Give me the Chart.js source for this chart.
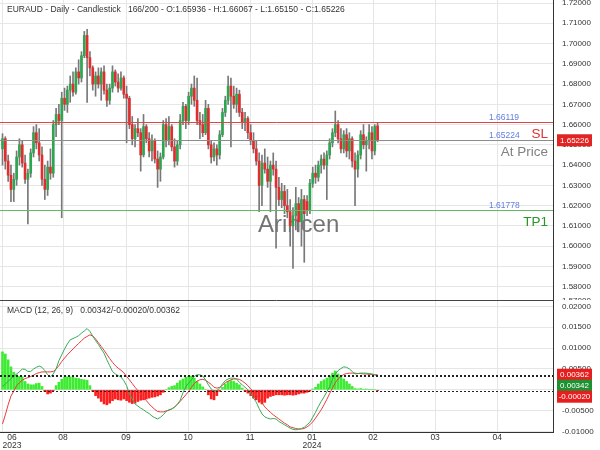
<!DOCTYPE html>
<html>
<head>
<meta charset="utf-8">
<script src="https://cdn.jsdelivr.net/npm/chart.js@4.4.1/dist/chart.umd.min.js"></script>
<style>
html, body { margin: 0; padding: 0; background: #fff; }
</style>
</head>
<body>
<canvas id="chart" width="600" height="450"></canvas>
<script>
// daily candles, EURAUD
const opens = [
  1.6480,1.6530,1.6420,1.6350,1.6280,1.6330,1.6440,1.6500,1.6410,1.6330,
  1.6360,1.6460,1.6560,1.6510,1.6450,1.6330,1.6280,1.6390,1.6360,1.6600,
  1.6650,1.6620,1.6730,1.6700,1.6770,1.6800,1.6760,1.6860,1.6830,1.6940,
  1.7040,1.6930,1.6880,1.6800,1.6840,1.6800,1.6860,1.6770,1.6720,1.6780,
  1.6860,1.6810,1.6780,1.6830,1.6750,1.6730,1.6600,1.6530,1.6580,1.6560,
  1.6450,1.6590,1.6530,1.6470,1.6520,1.6430,1.6380,1.6440,1.6600,1.6520,
  1.6590,1.6490,1.6420,1.6500,1.6620,1.6690,1.6620,1.6740,1.6780,1.6720,
  1.6620,1.6600,1.6560,1.6680,1.6500,1.6440,1.6480,1.6450,1.6550,1.6660,
  1.6720,1.6790,1.6740,1.6700,1.6750,1.6660,1.6610,1.6630,1.6560,1.6520,
  1.6480,1.6420,1.6300,1.6410,1.6380,1.6320,1.6400,1.6380,1.6290,1.6230,
  1.6270,1.6200,1.6170,1.6100,1.6150,1.6210,1.6120,1.6230,1.6220,1.6180,
  1.6310,1.6360,1.6340,1.6400,1.6430,1.6400,1.6450,1.6510,1.6560,1.6600,
  1.6530,1.6480,1.6550,1.6470,1.6530,1.6420,1.6380,1.6450,1.6550,1.6500,
  1.6520,1.6560,1.6470,1.65936
];
const highs = [
  1.6555,1.6540,1.6450,1.6400,1.6360,1.6470,1.6530,1.6520,1.6450,1.6380,
  1.6480,1.6590,1.6600,1.6580,1.6490,1.6400,1.6420,1.6480,1.6620,1.6680,
  1.6700,1.6760,1.6780,1.6790,1.6840,1.6860,1.6880,1.6920,1.6960,1.7060,
  1.7070,1.6960,1.6890,1.6860,1.6880,1.6880,1.6890,1.6800,1.6800,1.6890,
  1.6870,1.6850,1.6860,1.6840,1.6790,1.6740,1.6640,1.6600,1.6630,1.6580,
  1.6650,1.6600,1.6560,1.6550,1.6530,1.6470,1.6460,1.6620,1.6630,1.6640,
  1.6600,1.6530,1.6520,1.6650,1.6710,1.6700,1.6760,1.6800,1.6840,1.6830,
  1.6660,1.6650,1.6720,1.6700,1.6520,1.6510,1.6500,1.6570,1.6680,1.6740,
  1.6840,1.6830,1.6790,1.6780,1.6770,1.6680,1.6660,1.6640,1.6600,1.6560,
  1.6520,1.6460,1.6450,1.6480,1.6440,1.6420,1.6460,1.6420,1.6340,1.6310,
  1.6300,1.6280,1.6230,1.6190,1.6290,1.6240,1.6280,1.6250,1.6250,1.6330,
  1.6390,1.6400,1.6420,1.6450,1.6460,1.6470,1.6530,1.6580,1.6667,1.6620,
  1.6580,1.6570,1.6580,1.6560,1.6540,1.6460,1.6470,1.6570,1.6600,1.6540,
  1.6600,1.6590,1.6600,1.66067
];
const lows = [
  1.6400,1.6380,1.6320,1.6220,1.6220,1.6300,1.6400,1.6390,1.6310,1.6110,
  1.6340,1.6440,1.6480,1.6420,1.6300,1.6230,1.6250,1.6330,1.6340,1.6540,
  1.6600,1.6140,1.6670,1.6660,1.6710,1.6740,1.6750,1.6800,1.6810,1.6930,
  1.6710,1.6840,1.6770,1.6740,1.6780,1.6720,1.6750,1.6690,1.6700,1.6760,
  1.6790,1.6760,1.6770,1.6730,1.6510,1.6580,1.6500,1.6490,1.6540,1.6370,
  1.6440,1.6510,1.6440,1.6420,1.6410,1.6290,1.6320,1.6430,1.6490,1.6500,
  1.6470,1.6390,1.6400,1.6480,1.6600,1.6580,1.6600,1.6700,1.6690,1.6600,
  1.6530,1.6540,1.6550,1.6480,1.6410,1.6420,1.6400,1.6430,1.6540,1.6640,
  1.6700,1.6490,1.6680,1.6660,1.6640,1.6580,1.6570,1.6530,1.6500,1.6460,
  1.6400,1.6170,1.6200,1.6360,1.6290,1.6170,1.6350,1.5990,1.6200,1.6190,
  1.6160,1.6140,1.6000,1.5890,1.6080,1.6070,1.6000,1.5920,1.6150,1.6160,
  1.6290,1.6310,1.6320,1.6360,1.6380,1.6230,1.6430,1.6490,1.6540,1.6510,
  1.6460,1.6460,1.6440,1.6430,1.6390,1.6200,1.6340,1.6430,1.6480,1.6370,
  1.6480,1.6430,1.6450,1.65150
];
const closes = [
  1.6530,1.6420,1.6350,1.6280,1.6330,1.6440,1.6500,1.6410,1.6330,1.6360,
  1.6460,1.6560,1.6510,1.6450,1.6330,1.6280,1.6390,1.6360,1.6600,1.6650,
  1.6620,1.6730,1.6700,1.6770,1.6800,1.6760,1.6860,1.6830,1.6940,1.7040,
  1.6930,1.6880,1.6800,1.6840,1.6800,1.6860,1.6770,1.6720,1.6780,1.6860,
  1.6810,1.6780,1.6830,1.6750,1.6730,1.6600,1.6530,1.6580,1.6560,1.6450,
  1.6590,1.6530,1.6470,1.6520,1.6430,1.6380,1.6440,1.6600,1.6520,1.6590,
  1.6490,1.6420,1.6500,1.6620,1.6690,1.6620,1.6740,1.6780,1.6720,1.6620,
  1.6600,1.6560,1.6680,1.6500,1.6440,1.6480,1.6450,1.6550,1.6660,1.6720,
  1.6790,1.6740,1.6700,1.6750,1.6660,1.6610,1.6630,1.6560,1.6520,1.6480,
  1.6420,1.6300,1.6410,1.6380,1.6320,1.6400,1.6380,1.6290,1.6230,1.6270,
  1.6200,1.6170,1.6100,1.6150,1.6210,1.6120,1.6230,1.6160,1.6180,1.6310,
  1.6360,1.6340,1.6400,1.6430,1.6400,1.6450,1.6510,1.6560,1.6600,1.6530,
  1.6480,1.6550,1.6470,1.6530,1.6420,1.6380,1.6450,1.6550,1.6500,1.6520,
  1.6560,1.6470,1.6590,1.65226
];

// MACD (12, 26, 9)
const macd = [
  0.0008,0.0014,0.0020,0.0027,0.0032,0.0038,0.0043,0.0050,0.0049,0.0044,
  0.0044,0.0050,0.0054,0.0057,0.0054,0.0046,0.0036,0.0031,0.0038,0.0050,
  0.0070,0.0084,0.0098,0.0110,0.0120,0.0123,0.0126,0.0130,0.0136,0.0141,
  0.0147,0.0140,0.0129,0.0118,0.0109,0.0098,0.0088,0.0072,0.0058,0.0044,
  0.0038,0.0034,0.0031,0.0022,0.0010,-0.0010,-0.0022,-0.0034,-0.0039,-0.0044,
  -0.0048,-0.0053,-0.0057,-0.0063,-0.0067,-0.0070,-0.0066,-0.0060,-0.0052,-0.0048,
  -0.0046,-0.0042,-0.0035,-0.0025,-0.0007,0.0008,0.0016,0.0024,0.0032,0.0036,
  0.0036,0.0033,0.0024,0.0012,0.0002,-0.0004,-0.0002,0.0004,0.0014,0.0022,
  0.0026,0.0028,0.0028,0.0026,0.0018,0.0012,0.0006,0.0000,-0.0008,-0.0020,
  -0.0030,-0.0045,-0.0058,-0.0065,-0.0068,-0.0070,-0.0069,-0.0070,-0.0076,-0.0080,
  -0.0084,-0.0088,-0.0092,-0.0095,-0.0096,-0.0095,-0.0093,-0.0090,-0.0084,-0.0078,
  -0.0066,-0.0054,-0.0040,-0.0028,-0.0017,-0.0005,0.0008,0.0025,0.0038,0.0046,
  0.0051,0.0055,0.0054,0.0050,0.0044,0.0038,0.0039,0.0040,0.0040,0.0040,
  0.0039,0.0038,0.0036,0.00342
];
const signal = [
  -0.0082,-0.0060,-0.0036,-0.0015,-0.0003,0.0010,0.0017,0.0023,0.0027,0.0029,
  0.0032,0.0035,0.0039,0.0041,0.0043,0.0043,0.0043,0.0043,0.0044,0.0050,
  0.0058,0.0068,0.0076,0.0084,0.0091,0.0098,0.0105,0.0111,0.0118,0.0124,
  0.0128,0.0132,0.0129,0.0122,0.0113,0.0104,0.0095,0.0085,0.0075,0.0066,
  0.0058,0.0052,0.0047,0.0041,0.0032,0.0024,0.0015,0.0006,-0.0002,-0.0010,
  -0.0017,-0.0026,-0.0034,-0.0041,-0.0047,-0.0052,-0.0053,-0.0053,-0.0051,-0.0049,
  -0.0046,-0.0041,-0.0035,-0.0028,-0.0020,-0.0012,-0.0004,0.0006,0.0015,0.0021,
  0.0024,0.0025,0.0023,0.0018,0.0013,0.0006,0.0004,0.0006,0.0011,0.0017,
  0.0021,0.0024,0.0026,0.0026,0.0025,0.0021,0.0016,0.0010,0.0002,-0.0004,
  -0.0012,-0.0020,-0.0031,-0.0041,-0.0048,-0.0054,-0.0060,-0.0065,-0.0070,-0.0075,
  -0.0080,-0.0084,-0.0089,-0.0091,-0.0093,-0.0094,-0.0094,-0.0093,-0.0089,-0.0084,
  -0.0077,-0.0068,-0.0058,-0.0048,-0.0036,-0.0023,-0.0009,0.0004,0.0017,0.0026,
  0.0032,0.0037,0.0039,0.0040,0.0040,0.0040,0.0039,0.0039,0.0038,0.0038,
  0.0037,0.0037,0.0036,0.00362
];
const hist = [
  0.0091,0.0086,0.0072,0.0055,0.0042,0.0036,0.0032,0.0031,0.0020,0.0014,
  0.0012,0.0012,0.0015,0.0016,0.0008,-0.0004,-0.0010,-0.0008,-0.0002,0.0010,
  0.0018,0.0025,0.0030,0.0031,0.0031,0.0030,0.0028,0.0027,0.0025,0.0024,
  0.0023,0.0010,-0.0004,-0.0014,-0.0020,-0.0028,-0.0034,-0.0036,-0.0032,-0.0026,
  -0.0022,-0.0024,-0.0025,-0.0022,-0.0026,-0.0030,-0.0033,-0.0032,-0.0028,-0.0025,
  -0.0024,-0.0022,-0.0020,-0.0018,-0.0017,-0.0015,-0.0012,-0.0006,0.0000,0.0005,
  0.0008,0.0010,0.0016,0.0022,0.0026,0.0030,0.0032,0.0033,0.0028,0.0020,
  0.0014,0.0007,0.0000,-0.0012,-0.0022,-0.0024,-0.0014,-0.0004,0.0006,0.0014,
  0.0020,0.0022,0.0020,0.0016,0.0012,0.0004,-0.0003,-0.0008,-0.0014,-0.0020,
  -0.0024,-0.0030,-0.0034,-0.0030,-0.0020,-0.0016,-0.0014,-0.0012,-0.0012,-0.0012,
  -0.0013,-0.0012,-0.0012,-0.0013,-0.0012,-0.0010,-0.0008,-0.0008,-0.0006,-0.0003,
  0.0002,0.0006,0.0014,0.0020,0.0024,0.0028,0.0033,0.0040,0.0045,0.0038,
  0.0032,0.0026,0.0020,0.0014,0.0008,0.0003,0.0002,0.0003,0.0001,0.0002,
  0.0000,0.0001,0.0000,-0.00020
];

// month grid (bar index where each month starts) and its labels
const monthIdx = [0.07, 21.45, 43.8, 65.8, 87.8, 109.75, 131.4, 153.4, 175.4];
const monthLabels = ['06', '08', '09', '10', '11', '01', '02', '03', '04'];
const yearLabels = ['2023', '', '', '', '', '2024', '', '', ''];

// trade levels
const levelValues = [1.66119, 1.65224, 1.61778];
const levelNames = ['SL', 'At Price', 'TP1'];
const levelColors = ['rgb(222,50,50)', 'rgb(130,130,130)', 'rgb(40,150,40)'];
const levelLineColors = ['rgb(222,70,70)', 'rgb(140,140,140)', 'rgb(100,185,100)'];

const FONT = 'Liberation Sans, Arial, sans-serif';
const upColor = 'rgb(46,165,80)';
const downColor = 'rgb(225,45,45)';
const n = closes.length;
const idx = closes.map((c, i) => i);
const last = n - 1;
const priceTop = 1.72;
const priceBottom = 1.57;

const overlay = {
  id: 'overlay',
  beforeDatasetsDraw(chart) {
    const ctx = chart.ctx;
    const x = chart.scales.x, y = chart.scales.y;
    ctx.save();
    ctx.font = '24px ' + FONT;
    ctx.fillStyle = 'rgba(70,70,70,0.75)';
    ctx.textAlign = 'center';
    ctx.textBaseline = 'middle';
    ctx.fillText('Arincen', x.getPixelForValue(105), y.getPixelForValue(1.6103));
    ctx.restore();
  },
  afterDatasetsDraw(chart) {
    const ctx = chart.ctx;
    const x = chart.scales.x, y = chart.scales.y, y2 = chart.scales.y2;
    ctx.save();
    // trade levels
    levelValues.forEach((v, k) => {
      const py = Math.round(y.getPixelForValue(v)) + 0.5;
      ctx.strokeStyle = levelLineColors[k];
      ctx.lineWidth = 1;
      ctx.beginPath(); ctx.moveTo(x.left, py); ctx.lineTo(x.right, py); ctx.stroke();
      ctx.textBaseline = 'middle';
      ctx.font = '8.5px ' + FONT;
      ctx.fillStyle = 'rgb(95,125,225)';
      ctx.textAlign = 'left';
      ctx.fillText(v.toFixed(5), 489, py - 5);
      ctx.font = '13.5px ' + FONT;
      ctx.fillStyle = levelColors[k];
      ctx.textAlign = 'right';
      ctx.fillText(levelNames[k], 548, py + 12);
    });
    // dotted lines at the last MACD values
    ctx.strokeStyle = '#222';
    ctx.setLineDash([2, 2]);
    [signal[last], macd[last], hist[last]].forEach(v => {
      const py = Math.round(y2.getPixelForValue(v)) + 0.5;
      ctx.beginPath(); ctx.moveTo(x.left, py); ctx.lineTo(x.right, py); ctx.stroke();
    });
    ctx.restore();
  },
  afterDraw(chart) {
    const ctx = chart.ctx;
    const x = chart.scales.x, y = chart.scales.y, y2 = chart.scales.y2;
    ctx.save();
    ctx.font = '8px ' + FONT;
    ctx.fillStyle = '#333';
    ctx.textAlign = 'left';
    ctx.textBaseline = 'middle';
    // edge price labels, half cut by the page top and the pane border
    ctx.fillText(priceTop.toFixed(5), y.left + 9, y.getPixelForValue(priceTop));
    ctx.save();
    ctx.beginPath(); ctx.rect(y.left, y.bottom - 6, 47, 6); ctx.clip();
    ctx.fillText(priceBottom.toFixed(5), y.left + 9, y.bottom + 1);
    ctx.restore();

    // panel separator
    ctx.strokeStyle = '#444';
    ctx.lineWidth = 1;
    ctx.beginPath(); ctx.moveTo(0, Math.round(y.bottom) + 0.5); ctx.lineTo(x.right, Math.round(y.bottom) + 0.5); ctx.stroke();

    // titles
    ctx.font = '8.5px ' + FONT;
    ctx.fillText('EURAUD - Daily - Candlestick   166/200 - O:' + opens[last].toFixed(5) +
      ' - H:' + highs[last].toFixed(5) + ' - L:' + lows[last].toFixed(5) +
      ' - C:' + closes[last].toFixed(5), 7, 10);
    ctx.fillText('MACD (12, 26, 9)   ' + macd[last].toFixed(5) + '/' + hist[last].toFixed(5) +
      '/' + signal[last].toFixed(5), 7, y2.top + 11);

    // month labels
    ctx.textAlign = 'center';
    monthIdx.forEach((m, k) => {
      const px = Math.max(x.getPixelForValue(m), 12);
      ctx.fillText(monthLabels[k], px, x.top + 6);
      if (yearLabels[k]) ctx.fillText(yearLabels[k], px, x.top + 13.5);
    });

    // value tags on the right axis
    const tag = (text, py, bg) => {
      ctx.fillStyle = bg;
      ctx.fillRect(557, py - 6, 35, 12);
      ctx.fillStyle = '#fff';
      ctx.font = '8px ' + FONT;
      ctx.textAlign = 'center';
      ctx.fillText(text, 574.5, py + 0.5);
    };
    tag(closes[last].toFixed(5), y.getPixelForValue(closes[last]), 'rgb(225,35,35)');
    const tags = [[signal[last], 'rgb(232,30,30)'], [macd[last], 'rgb(30,145,50)'], [hist[last], 'rgb(232,30,30)']];
    let bottom = -1e9;
    tags.forEach(([v, bg]) => {
      const py = Math.max(y2.getPixelForValue(v), bottom + 5.5);
      tag(v.toFixed(5), py, bg);
      bottom = py + 5.5;
    });
    ctx.restore();
  }
};

const gridColor = '#e6e6e6';
const tickFont = { size: 8, family: FONT };

new Chart(document.getElementById('chart'), {
  type: 'bar',
  data: {
    datasets: [
      {
        label: 'Body',
        data: idx.map(i => ({ x: i, y: [opens[i], closes[i]] })),
        backgroundColor: idx.map(i => closes[i] >= opens[i] ? upColor : downColor),
        barThickness: 2,
        minBarLength: 1,
        grouped: false,
        yAxisID: 'y'
      },
      {
        label: 'Wick',
        data: idx.map(i => ({ x: i, y: [lows[i], highs[i]] })),
        backgroundColor: 'rgb(120,120,120)',
        barThickness: 1,
        grouped: false,
        yAxisID: 'y'
      },
      {
        type: 'line',
        label: 'MACD',
        data: idx.map(i => ({ x: i, y: macd[i] })),
        borderColor: 'rgb(55,170,85)',
        borderWidth: 1,
        pointRadius: 0,
        yAxisID: 'y2'
      },
      {
        type: 'line',
        label: 'Signal',
        data: idx.map(i => ({ x: i, y: signal[i] })),
        borderColor: 'rgb(232,60,60)',
        borderWidth: 1,
        pointRadius: 0,
        yAxisID: 'y2'
      },
      {
        label: 'Histogram',
        data: idx.map(i => ({ x: i, y: hist[i] })),
        backgroundColor: hist.map(v => v >= 0 ? 'rgb(60,235,50)' : 'rgb(250,30,30)'),
        barThickness: 2,
        grouped: false,
        yAxisID: 'y2'
      }
    ]
  },
  options: {
    responsive: false,
    animation: false,
    layout: { padding: 0 },
    plugins: {
      legend: { display: false },
      tooltip: { enabled: false }
    },
    scales: {
      x: {
        type: 'linear',
        offset: false,
        min: -0.89,
        max: 195.2,
        afterBuildTicks: s => { s.ticks = monthIdx.map(v => ({ value: v })); },
        afterFit: s => { s.height = 18; },
        ticks: { display: false },
        grid: { color: gridColor, drawTicks: false, offset: false },
        border: { color: '#333' }
      },
      y: {
        position: 'right',
        stack: 'panes',
        stackWeight: 300,
        min: 1.5734,
        max: 1.7215,
        afterFit: s => { s.width = 47; s.paddingTop = 0; s.paddingBottom = 0; },
        ticks: {
          stepSize: 0.01,
          includeBounds: false,
          autoSkip: false,
          padding: 9,
          font: tickFont,
          color: '#333',
          callback: v => v > 1.715 ? '' : v.toFixed(5)
        },
        grid: { color: gridColor, drawTicks: false },
        border: { color: '#333' }
      },
      y2: {
        position: 'right',
        stack: 'panes',
        stackWeight: 132,
        min: -0.01013,
        max: 0.02155,
        afterFit: s => { s.width = 47; s.paddingTop = 0; s.paddingBottom = 0; },
        ticks: {
          stepSize: 0.005,
          includeBounds: false,
          autoSkip: false,
          padding: 9,
          font: tickFont,
          color: '#333',
          callback: v => v.toFixed(5)
        },
        grid: { color: gridColor, drawTicks: false },
        border: { color: '#333' }
      }
    }
  },
  plugins: [overlay]
});
</script>
</body>
</html>
